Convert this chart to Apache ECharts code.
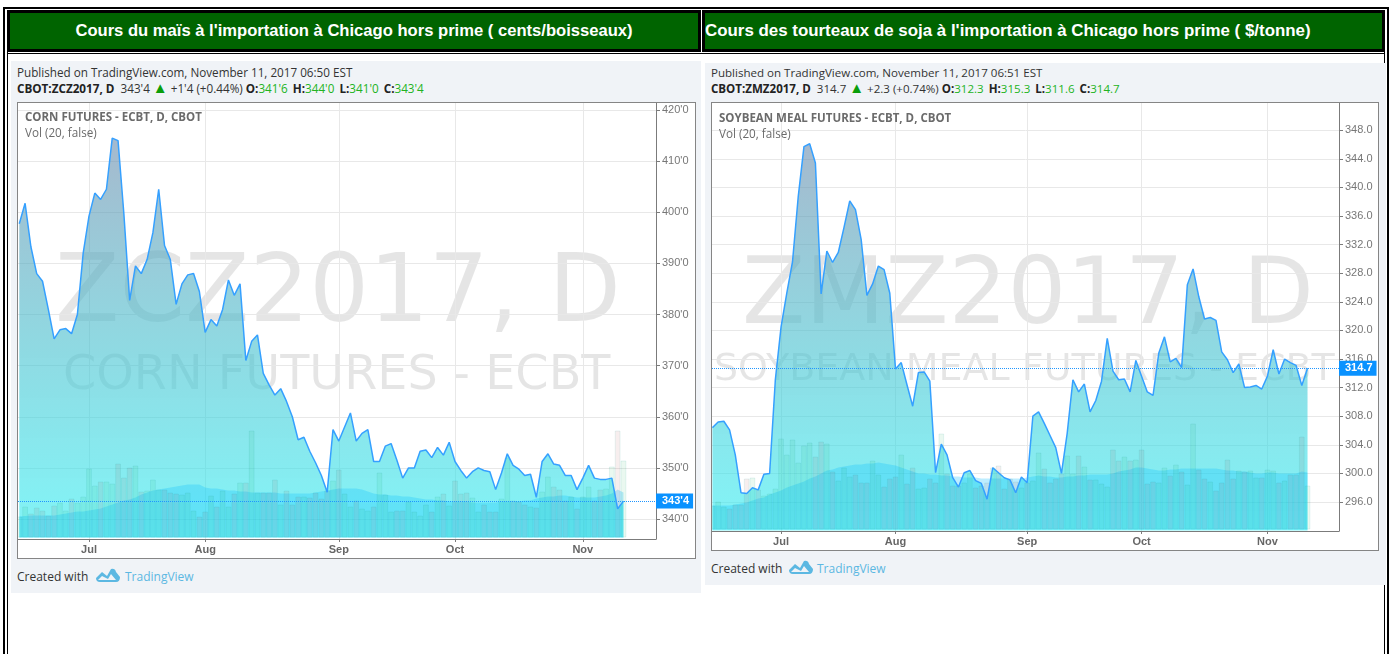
<!DOCTYPE html>
<html>
<head>
<meta charset="utf-8">
<title>Cours</title>
<script src="https://cdn.jsdelivr.net/npm/echarts@6/dist/echarts.min.js"></script>
<style>
html,body{margin:0;padding:0;background:#fff;overflow:hidden;width:1392px;height:654px}
.abs{position:absolute;box-sizing:border-box}
.head{background:#006400;border:2px solid #000;outline:1px solid #000;color:#fff;font:bold 16.6px "Liberation Sans",Arial,sans-serif;text-align:center;line-height:36px;white-space:nowrap}
.panel{background:#f0f3f7}
.frame{background:#fff;border:1px solid #858585}
.txt{position:absolute;white-space:nowrap;font-family:"Open Sans",sans-serif;font-size:11.7px;color:#333;line-height:16px}
.txt b{font-weight:700;color:#222}
.txt i{font-style:normal;color:#22b322;margin-right:2px}
.txt u{text-decoration:none;color:#0a9e0a;font-size:15px;line-height:12px}
.made{font-size:12px}
.tv{color:#5cb8e2}
</style>
</head>
<body>
<div class="abs" style="left:3px;top:7px;width:2px;height:647px;background:#000"></div>
<div class="abs" style="left:3px;top:7px;width:1386px;height:2px;background:#000"></div>
<div class="abs" style="left:1387px;top:7px;width:2px;height:647px;background:#000"></div>
<div class="abs" style="left:7px;top:50px;width:1px;height:604px;background:#000"></div>
<div class="abs" style="left:1384px;top:50px;width:1px;height:604px;background:#000"></div>
<div class="abs" style="left:7px;top:53px;width:1378px;height:1px;background:#000"></div>
<div class="abs head" style="left:8px;top:11px;width:692px;height:40px">Cours du maïs à l'importation à Chicago hors prime ( cents/boisseaux)</div>
<div class="abs head" style="left:703px;top:11px;width:681px;height:40px;text-align:left;font-size:16.9px;padding-left:0">Cours des tourteaux de soja à l'importation à Chicago hors prime ( $/tonne)</div>

<div class="abs panel" style="left:11px;top:61px;width:690px;height:532px"></div>
<div class="abs panel" style="left:705px;top:63px;width:681px;height:522px"></div>

<div class="txt" style="left:17px;top:64px">Published on TradingView.com, November 11, 2017 06:50 EST</div>
<div class="txt" style="left:17px;top:80px"><b>CBOT:ZCZ2017, D</b>&nbsp; 343'4 <u>▲</u> +1'4 (+0.44%) <b>O:</b><i>341'6</i> <b>H:</b><i>344'0</i> <b>L:</b><i>341'0</i> <b>C:</b><i>343'4</i></div>
<div class="txt" style="left:711px;top:65px;font-size:11.55px">Published on TradingView.com, November 11, 2017 06:51 EST</div>
<div class="txt" style="left:711px;top:81px;font-size:11.55px"><b>CBOT:ZMZ2017, D</b>&nbsp; 314.7 <u>▲</u> +2.3 (+0.74%) <b>O:</b><i>312.3</i> <b>H:</b><i>315.3</i> <b>L:</b><i>311.6</i> <b>C:</b><i>314.7</i></div>

<div class="abs frame" style="left:17px;top:102px;width:679px;height:457px"><div id="corn" style="width:677px;height:455px"></div></div>
<div class="abs frame" style="left:711px;top:102px;width:668px;height:449px"><div id="soy" style="width:666px;height:447px"></div></div>

<div class="txt made" style="left:17px;top:569px">Created with</div>
<svg class="abs" style="left:96px;top:568px" width="24" height="15" viewBox="0 0 24 15"><path fill="#5cb8e2" d="M0 10 L6 4 L11 8 L15 1 Q19 0 20 4 L24 9 Q24 14 20 14 L4 14 Q0 14 0 10 Z M6 8 L2 12 L20 12 L15 6 L12 11 Z" fill-rule="evenodd"/></svg>
<div class="txt made tv" style="left:125px;top:569px">TradingView</div>
<div class="txt made" style="left:711px;top:561px">Created with</div>
<svg class="abs" style="left:789px;top:560px" width="24" height="15" viewBox="0 0 24 15"><path fill="#5cb8e2" d="M0 10 L6 4 L11 8 L15 1 Q19 0 20 4 L24 9 Q24 14 20 14 L4 14 Q0 14 0 10 Z M6 8 L2 12 L20 12 L15 6 L12 11 Z" fill-rule="evenodd"/></svg>
<div class="txt made tv" style="left:817px;top:561px">TradingView</div>

<script>
// bar number of the first session of each month (15 Jun 2017 = bar 0)
var monthBars = [12, 32, 55, 75, 97];
var monthNames = ['Jul', 'Aug', 'Sep', 'Oct', 'Nov'];

var cornTicks = [340, 350, 360, 370, 380, 390, 400, 410, 420];
var cornClose = [397.75,401.75,393.25,388,386.5,381,375.25,377,377.25,376.25,380,392,399.25,403.75,402.5,404.5,414.5,414,399.75,382.75,389.5,388,390.75,396,404.5,393.5,390.75,382,386,387.75,388,384.5,376.5,379,377.75,381,386.75,383.75,386,371,374.75,376,368.5,366.25,364.25,365.5,363,360,355.5,356,353.25,351,348.5,345.25,357.5,355.25,358,360.75,355.25,356.75,357.5,351.25,351.25,354.25,354.75,351.5,348,350,350,353.25,353.5,352,354,352.5,355,351.25,349.5,348,349.25,350,349.5,349.25,345.75,349,352.75,350.5,349.75,348.5,348.75,344.25,351.25,352.75,350.75,350.5,348.5,348.5,345.75,348,350.5,348,347.75,347.75,348,342,343.5];
var cornVolume = [21,31,24,30,27,22,32,35,27,39,35,41,69,52,56,56,54,74,60,70,72,46,47,58,48,48,45,44,43,45,27,21,26,42,31,47,31,44,55,55,107,45,45,45,58,33,47,33,41,41,40,45,39,47,57,68,44,31,37,29,27,31,65,43,26,27,27,36,26,22,33,26,41,44,32,57,44,45,40,26,33,26,26,39,80,37,36,33,31,30,46,61,51,48,37,41,29,41,51,37,48,49,71,107,77];
var cornVolumeMa = [21,21.5,22,22,22,22,22,23,24,25,26,26,27,28,29,31,33,35,37,38,40,43,45,47,48,49,50,51,52,53,53,53,50,49,49,48,47,47,46,46,45,45,45,45,45,44,44,44,44,44,44,45,46,47,48,49,49,49,49,48,46,44,43,43,42,42,41,41,40,39,38,38,37,37,36,36,36,36,35,35,35,35,35,36,36,36,36,37,37,39,40,41,41,42,42,41,40,40,40,40,41,42,44,48,45];

var soyTicks = [296, 300, 304, 308, 312, 316, 320, 324, 328, 332, 336, 340, 344, 348];
var soyClose = [306.4,307.2,307.3,306.1,302.6,297.3,297.2,298,297.7,299.9,300,313.1,320.5,325.2,329.6,338.7,345.7,346.1,343.4,325.1,331.1,329.5,330.9,334.4,338.1,336.9,332.7,324.9,326.5,329,328.5,325.2,314.6,315.5,312.4,309.4,314.1,314.2,312.9,300.1,304.1,302.6,299.4,298.1,300.1,300.4,299,298.6,296.4,300.8,300.1,299.4,299.1,297.3,299.5,298.7,308,308.6,307,305.3,303.6,300,305.6,313.1,311.4,312.5,308.6,310.2,312.9,318.9,314.3,313.1,313.2,311.4,315.8,313.6,311.4,310.9,316.8,319.1,315.6,316.1,314.8,326.4,328.6,324.7,321.6,321.8,321.4,317,315.9,314.1,315.3,312,312.1,312.3,311.8,313.6,317.3,313.9,316,315.5,315.1,312.3,314.7];
var soyVolume = [24,28,23,21,25,25,51,52,40,34,36,41,91,75,90,67,84,87,73,88,86,58,49,62,53,55,47,47,69,55,43,51,53,75,46,62,41,42,51,47,96,56,44,44,47,56,42,44,47,62,64,41,51,48,42,47,49,77,61,47,51,56,74,56,74,63,50,50,46,43,80,69,73,69,70,80,46,48,47,62,54,65,58,45,106,60,51,48,39,47,70,51,59,58,59,52,52,60,59,47,49,55,55,93,44];
var soyVolumeMa = [24,24,24,24,25,26,27,29,31,32,35,37,39,42,44,46,48,51,53,56,59,60,62,63,64,65,65,66,66,67,66,65,64,62,60,58,56,56,55,55,54,54,53,53,52,52,52,51,51,51,51,51,51,51,51,52,53,54,53,53,52,52,53,53,54,54,55,55,55,55,56,58,59,60,62,62,61,60,59,59,60,60,61,61,61,61,61,61,61,60,59,59,58,58,57,56,56,57,57,56,56,56,56,58,57];

function pairs(list) {
    return list.map(function (v, i) { return [i, v]; });
}

function drawChart(id, c) {
    var myChart = echarts.init(document.getElementById(id), null, { renderer: 'canvas' });
    var bars = c.volume.map(function (v, i) {
        var up = i === 0 || c.close[i] >= c.close[i - 1];
        return {
            value: [i, v],
            itemStyle: {
                color: up ? 'rgba(20,175,90,0.09)' : 'rgba(170,70,70,0.09)',
                borderColor: 'rgba(20,150,140,0.1)',
                borderWidth: 1
            }
        };
    });
    myChart.setOption({
        animation: false,
        grid: { left: 0, top: 0, width: c.plotW, height: c.plotH },
        graphic: [
            { type: 'text', silent: true, z: 0, left: c.bigX, top: c.bigY, style: { text: c.big, font: c.bigSize + 'px "DejaVu Sans"', fill: 'rgba(0,0,0,0.1)' } },
            { type: 'text', silent: true, z: 0, left: c.subX, top: c.subY, style: { text: c.sub, font: c.subSize + 'px "DejaVu Sans"', fill: 'rgba(0,0,0,0.1)' } },
            { type: 'text', silent: true, z: 20, left: c.labelX, top: c.labelY, style: { text: c.title, font: '700 11.5px "Open Sans"', fill: '#6b6b6b' } },
            { type: 'text', silent: true, z: 20, left: c.labelX, top: c.labelY + 16, style: { text: 'Vol (20, false)', font: '11.7px "Open Sans"', fill: '#6b6b6b' } }
        ],
        xAxis: {
            type: 'value',
            min: c.xMin,
            max: c.xMax,
            axisLine: { show: true, onZero: false, lineStyle: { color: '#7b7b7b', width: 1 } },
            axisTick: { show: true, length: 3, customValues: monthBars, lineStyle: { color: '#7b7b7b' } },
            axisLabel: {
                customValues: monthBars,
                margin: 5,
                color: '#666',
                fontFamily: 'Liberation Sans',
                fontSize: 11,
                fontWeight: 'bold',
                formatter: function (v) { return monthNames[monthBars.indexOf(v)]; }
            },
            splitLine: { show: true, customValues: monthBars, lineStyle: { color: '#e8e8e8', width: 1 } }
        },
        yAxis: [{
            type: 'value',
            position: 'right',
            min: c.yMin,
            max: c.yMax,
            axisLine: { show: true, onZero: false, lineStyle: { color: '#7b7b7b', width: 1 } },
            axisTick: { show: true, length: 4, customValues: c.ticks, lineStyle: { color: '#7b7b7b' } },
            axisLabel: {
                customValues: c.ticks,
                margin: 6,
                color: '#777',
                fontFamily: 'Liberation Sans',
                fontSize: 11,
                formatter: c.tickFmt
            },
            splitLine: { show: true, customValues: c.ticks, lineStyle: { color: '#e8e8e8', width: 1 } }
        }, {
            type: 'value',
            min: -1.5,
            max: c.plotH - 1.5,
            show: false,
            splitLine: { show: false }
        }],
        series: [{
            type: 'line',
            name: 'closeArea',
            data: pairs(c.close),
            symbol: 'none',
            z: 3,
            lineStyle: { width: 0 },
            areaStyle: {
                opacity: 1,
                origin: c.areaBase,
                color: new echarts.graphic.LinearGradient(0, 0, 0, 1, [
                    { offset: 0, color: 'rgba(105,138,172,0.6)' },
                    { offset: 0.5, color: 'rgba(70,190,205,0.6)' },
                    { offset: 1, color: 'rgba(38,238,242,0.58)' }
                ])
            }
        }, {
            type: 'line',
            name: 'volMa',
            yAxisIndex: 1,
            data: pairs(c.volumeMa),
            symbol: 'none',
            z: 4,
            lineStyle: { width: 0 },
            areaStyle: { opacity: 1, color: 'rgba(0,185,255,0.26)', origin: 0 }
        }, {
            type: 'bar',
            name: 'vol',
            yAxisIndex: 1,
            data: bars,
            barWidth: c.barW,
            z: 4
        }, {
            type: 'line',
            name: 'close',
            data: pairs(c.close),
            symbol: 'none',
            z: 5,
            lineStyle: { color: '#35a0ff', width: 1.5 },
            markLine: {
                silent: true,
                symbol: 'none',
                animation: false,
                lineStyle: { color: '#1f96ff', type: 'dotted', width: 1 },
                label: {
                    position: 'end',
                    distance: 0,
                    formatter: c.lastText,
                    color: '#fff',
                    fontFamily: 'Liberation Sans',
                    fontSize: 11,
                    fontWeight: 'bold',
                    backgroundColor: '#0a92ff',
                    padding: [2, 4, 2, 6]
                },
                data: [{ yAxis: c.close[c.close.length - 1] }]
            }
        }]
    });
    return myChart;
}

drawChart('corn', {
    close: cornClose, volume: cornVolume, volumeMa: cornVolumeMa, ticks: cornTicks,
    tickFmt: function (v) { return v + "'0"; },
    lastText: "343'4",
    plotW: 638, plotH: 436, barW: 5.8,
    xMin: -0.22, xMax: 109.6, yMin: 336.09, yMax: 421.37, areaBase: 336.38,
    title: 'CORN FUTURES - ECBT, D, CBOT', labelX: 7, labelY: 9,
    big: 'ZCZ2017, D', bigX: 37, bigY: 147, bigSize: 94,
    sub: 'CORN FUTURES - ECBT', subX: 45, subY: 250, subSize: 47.7
});

drawChart('soy', {
    close: soyClose, volume: soyVolume, volumeMa: soyVolumeMa, ticks: soyTicks,
    tickFmt: function (v) { return v.toFixed(1); },
    lastText: '314.7',
    plotW: 627, plotH: 428, barW: 5.7,
    xMin: -0.07, xMax: 109.5, yMin: 291.95, yMax: 351.8, areaBase: 292.03,
    title: 'SOYBEAN MEAL FUTURES - ECBT, D, CBOT', labelX: 7, labelY: 10,
    big: 'ZMZ2017, D', bigX: 30, bigY: 149, bigSize: 92.5,
    sub: 'SOYBEAN MEAL FUTURES - ECBT', subX: 2, subY: 248, subSize: 38
});
</script>
</body>
</html>
